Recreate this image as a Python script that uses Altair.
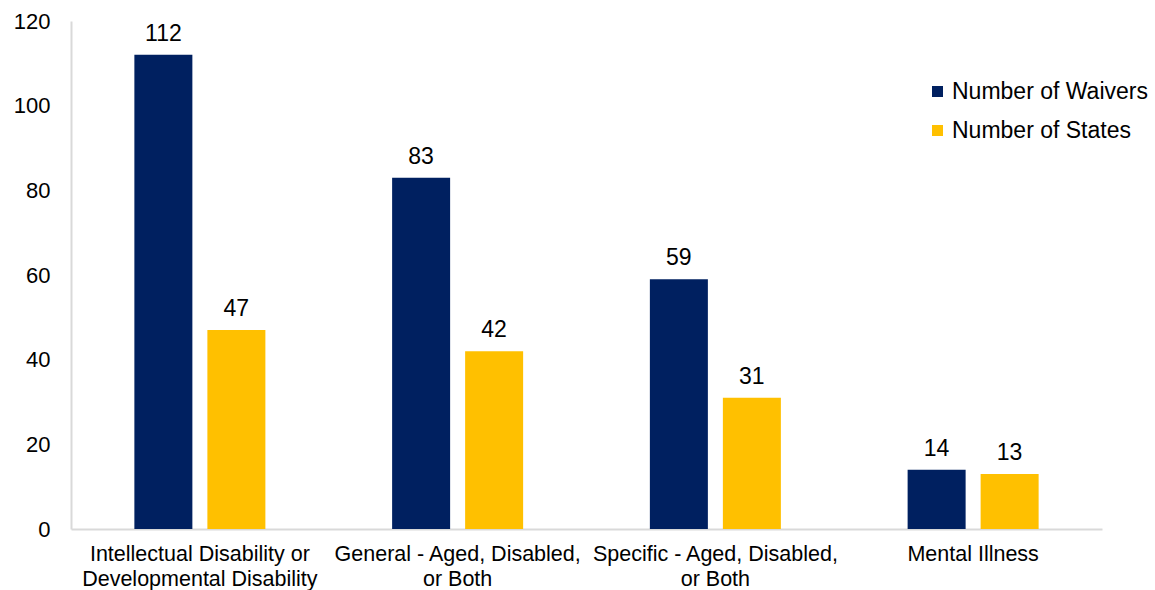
import altair as alt
import pandas as pd

categories = [
    "Intellectual Disability or|Developmental Disability",
    "General - Aged, Disabled,|or Both",
    "Specific - Aged, Disabled,|or Both",
    "Mental Illness",
]
series = ["Number of Waivers", "Number of States"]
waivers = [112, 83, 59, 14]
states = [47, 42, 31, 13]
colors = ["#002060", "#FFC000"]

rows = []
for c, w, s in zip(categories, waivers, states):
    rows.append({"cat": c, "series": series[0], "value": w})
    rows.append({"cat": c, "series": series[1], "value": s})
df = pd.DataFrame(rows)

FONT = "Liberation Sans"

x = alt.X("cat:N", sort=categories, title=None,
          scale=alt.Scale(paddingInner=0, paddingOuter=0),
          axis=alt.Axis(labelExpr="split(datum.label, '|')", labelAngle=0,
                        labelFontSize=21.5, labelFont=FONT, labelColor="#000000",
                        labelPadding=14, labelLineHeight=25, ticks=False,
                        domainColor="#D9D9D9", domainWidth=2, labelLimit=400))
xo = alt.XOffset("series:N", sort=series,
                 scale=alt.Scale(paddingInner=0.2055, paddingOuter=0.868))
y = alt.Y("value:Q", title=None,
          scale=alt.Scale(domain=[0, 120], nice=False),
          axis=alt.Axis(values=[0, 20, 40, 60, 80, 100, 120], grid=False,
                        labelFontSize=22, labelFont=FONT, labelColor="#000000",
                        labelPadding=21, ticks=False, domainColor="#D9D9D9",
                        domainWidth=2))
color = alt.Color("series:N", sort=series, title=None,
                  scale=alt.Scale(domain=series, range=colors),
                  legend=alt.Legend(orient="none", legendX=855, legendY=59,
                                    symbolType="square", symbolSize=121,
                                    symbolStrokeWidth=0, labelFontSize=23,
                                    labelFont=FONT, labelColor="#000000",
                                    labelOffset=3, rowPadding=15, labelLimit=400))

base = alt.Chart(df).encode(x=x, xOffset=xo, y=y)
bars = base.mark_bar().encode(color=color)
text = base.mark_text(baseline="alphabetic", dy=-14, fontSize=23, font=FONT,
                      color="#000000").encode(text="value:Q")

chart = (bars + text).properties(
    width=1031, height=508,
    autosize=alt.AutoSizeParams(type="none"),
    padding={"left": 71, "top": 21, "right": 53, "bottom": 61},
    background="white",
).configure_view(strokeWidth=0)

chart.save("out.html", embed_options={"renderer": "svg", "actions": False})
